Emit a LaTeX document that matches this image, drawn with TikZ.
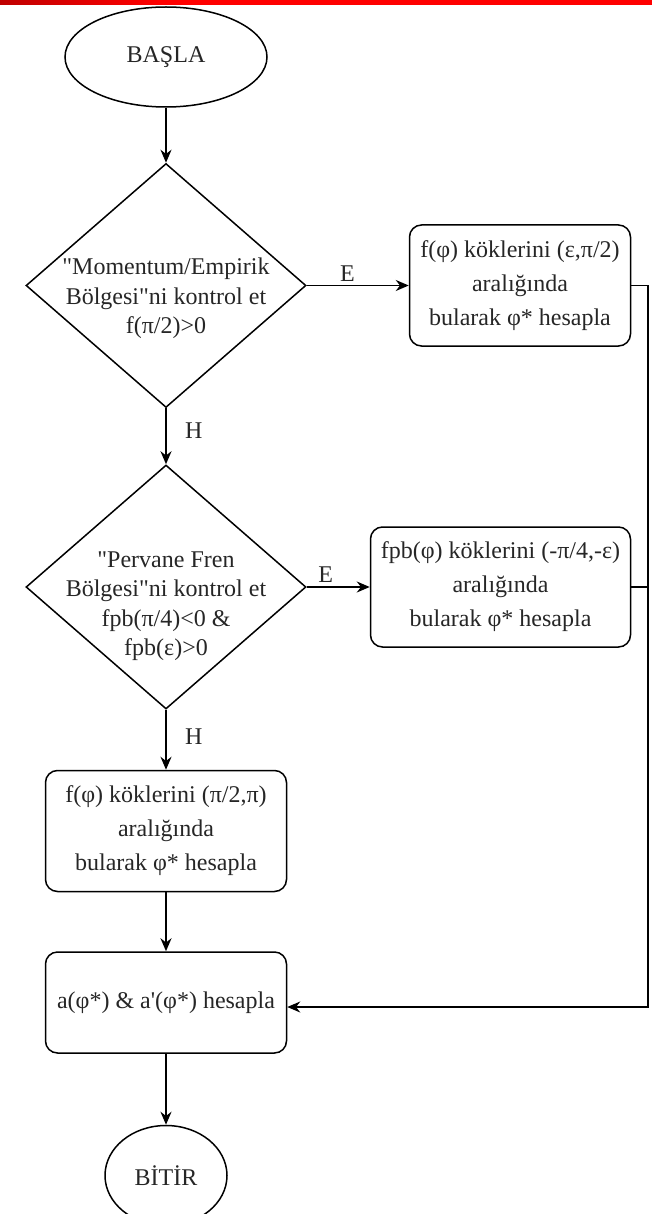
\documentclass[tikz,border=0pt]{standalone}
\usepackage{fontspec}
\setmainfont{Liberation Serif}[Ligatures=TeXOff]
\usetikzlibrary{shapes.geometric,positioning,arrows.meta}

\begin{document}
\begin{tikzpicture}[x=1pt, y=-1pt,
    every node/.style={font=\fontsize{24}{29.5}\selectfont, text=black!85}]
    \tikzstyle{term}=[ellipse, draw, line width=1.5pt, inner sep=0pt]
    \tikzstyle{decision}=[diamond, draw, line width=1.5pt, minimum width=280pt, minimum height=244pt, inner sep=0pt]
    \tikzstyle{process}=[rectangle, rounded corners=12pt, draw, line width=1.5pt, align=center, inner sep=2pt, font=\fontsize{24}{34}\selectfont]
    \tikzstyle{connect}=[-{Stealth[length=13pt, width=11pt]}, line width=1.5pt]
    \tikzstyle{wire}=[line width=1.5pt]

    \useasboundingbox (0,0) rectangle (652,1214);
    \fill[red] (0,0) rectangle (652,5);
    \shade[left color=red!75!black, right color=red] (0,0) rectangle (160,5);

      \node[term, minimum width=202pt, minimum height=100pt] (start) at (166,57) {BAŞLA};
      \node[decision] (dec1) [below=55pt of start] {};
      \node[align=center, yshift=-13pt] (dec1txt) at (dec1) {"Momentum/Empirik\\Bölgesi"ni kontrol et\\f(π/2)>0};
      \node[process, minimum width=221pt, minimum height=121pt] (yes1) [right=102pt of dec1] {f(φ) köklerini (ε,π/2)\\aralığında\\bularak φ* hesapla};
      \node[decision] (dec2) [below=56pt of dec1] {};
      \node[align=center, yshift=-19pt] (dec2txt) at (dec2) {"Pervane Fren\\Bölgesi"ni kontrol et\\fpb(π/4)<0 \&\\fpb(ε)>0};
      \node[process, minimum width=260pt, minimum height=120pt] (yes2) [right=63pt of dec2] {fpb(φ) köklerini (-π/4,-ε)\\aralığında\\bularak φ* hesapla};
      \node[process, minimum width=241pt, minimum height=121pt] (no2) [below=60pt of dec2] {f(φ) köklerini (π/2,π)\\aralığında\\bularak φ* hesapla};
      \node[process, minimum width=241pt, minimum height=101pt] (calc) [below=59pt of no2] {a(φ*) \& a'(φ*) hesapla};
      \node[term, minimum width=122pt, minimum height=100pt] (stop) [below=71pt of calc] {BİTİR};
      \coordinate (rail) at (648,1007);

      \draw[connect] (start) -- (dec1);
      \draw[connect] (dec1) -- node[pos=0.4, above] (e1) {E} (yes1);
      \draw[connect] (dec1) -- node[pos=0.4, right=15pt] (h1) {H} (dec2);
      \draw[connect] (dec2) -- node[pos=0.3, above] (e2) {E} (yes2);
      \draw[connect] (dec2) -- node[pos=0.45, right=15pt] (h2) {H} (no2);
      \draw[connect] (no2) -- (calc);
      \draw[connect] (calc) -- (stop);
      \draw[connect] (yes1.east) -| (rail) -- (rail -| calc.east);
      \draw[wire] (yes2.east) -- (yes2.east -| rail);
\end{tikzpicture}
\end{document}
